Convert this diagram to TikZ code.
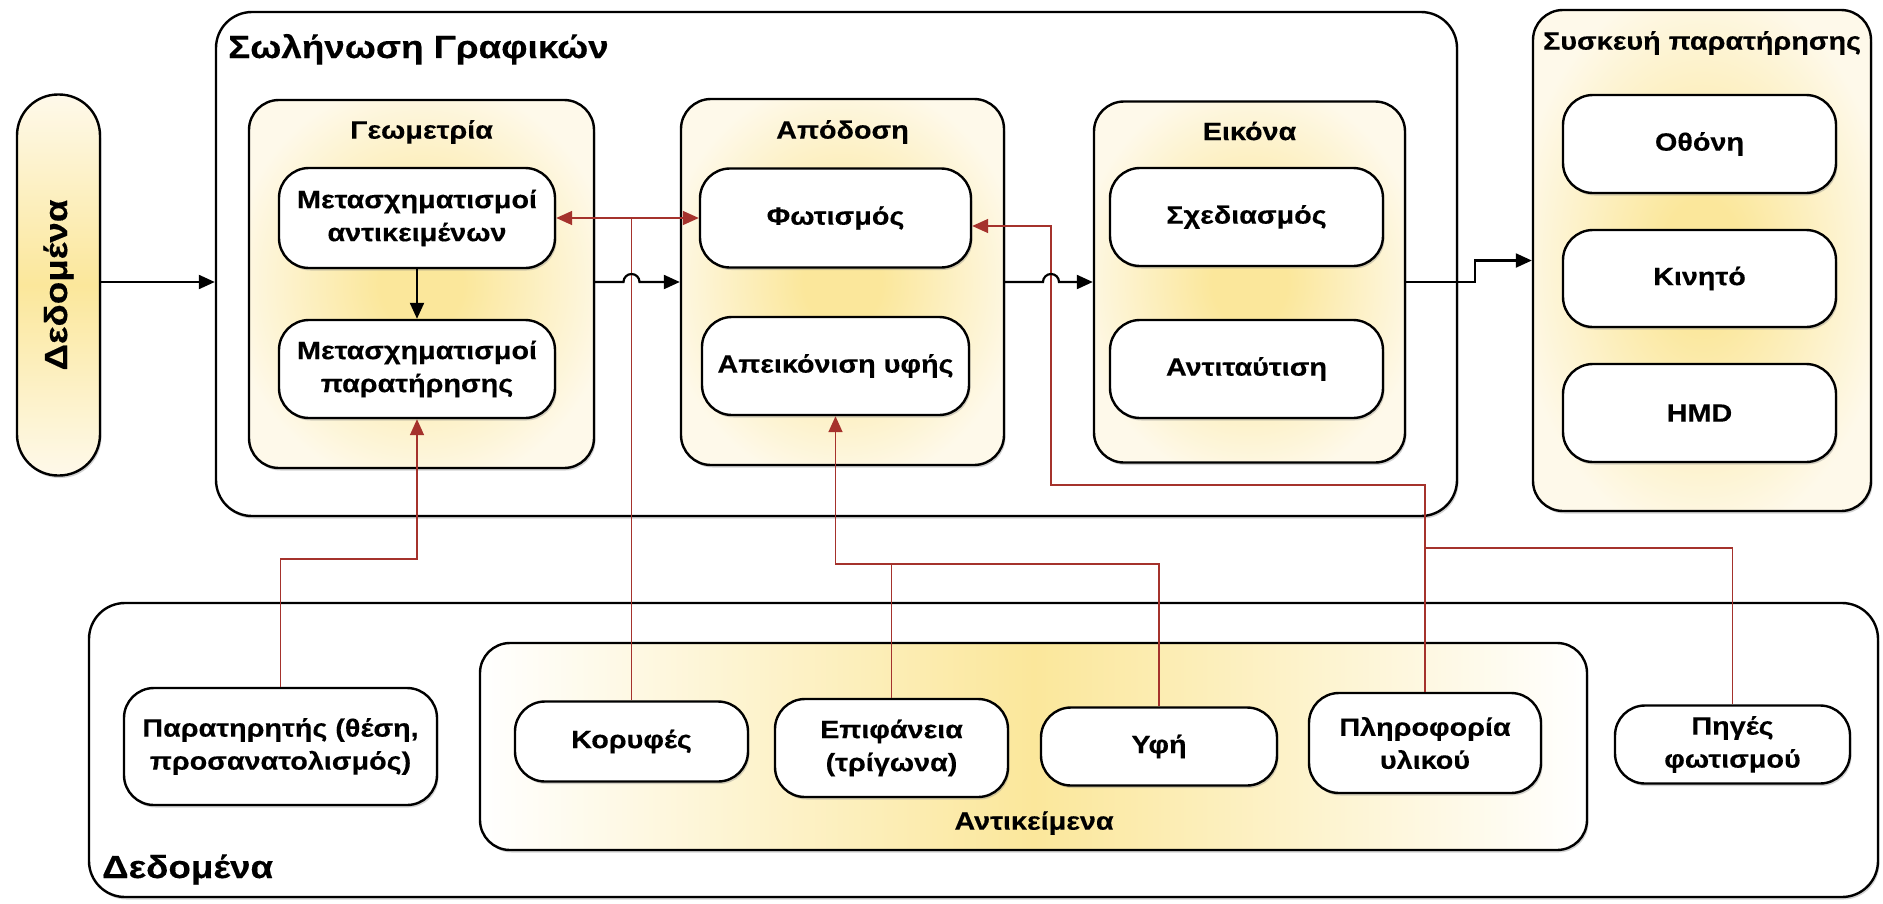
\documentclass[tikz,border=0pt]{standalone}
\usepackage{fontspec}
\setmainfont{Liberation Sans}[FakeStretch=1.15,BoldFeatures={FakeBold=0.3}]
\usetikzlibrary{arrows.meta,shadows,calc}
\definecolor{fyA}{RGB}{251,231,155}
\definecolor{fyB}{RGB}{254,249,234}
\definecolor{redl}{RGB}{165,50,44}
\pgfdeclareradialshading[fyA,fyB]{glow}{\pgfpoint{0bp}{0bp}}{color(0bp)=(fyA); color(6bp)=(fyA); color(28bp)=(fyB); color(50bp)=(fyB)}
\begin{document}
\begin{tikzpicture}[x=1pt,y=-1pt,
  nodefont/.style={font=\bfseries\fontsize{25}{33}\selectfont},
  shad/.style={drop shadow={shadow xshift=1.5pt,shadow yshift=-2.5pt,opacity=0.35}},
  box/.style={draw,line width=2.4pt,fill=white,rounded corners=30pt,align=center,inner sep=0pt,nodefont,shad},
  frame/.style={draw,line width=2.4pt,rounded corners=30pt,shading=glow,inner sep=0pt,shad},
  bigframe/.style={draw,line width=2.4pt,fill=white,rounded corners=36pt,inner sep=0pt,shad},
  ftitle/.style={font=\bfseries\fontsize{25}{30}\selectfont,inner sep=0pt},
  btitle/.style={font=\bfseries\fontsize{32}{38}\selectfont,inner sep=0pt},
  redc/.style={draw=redl,line width=1.6pt},
  reda/.style={redc,-{Triangle[length=16pt,width=14pt]}},
  blka/.style={draw=black,line width=2.2pt,-{Triangle[length=16pt,width=14pt]}},
]
\useasboundingbox (0,0) rectangle (1883,903);
\fill[white] (0,0) rectangle (1883,903);

% ---------- big containers ----------
\node[bigframe,minimum width=1241pt,minimum height=504pt] (pipe) at (836.5,264) {};
\node[btitle,anchor=base west] (pipetitle) at (228,58) {Σωλήνωση Γραφικών};

\node[bigframe,minimum width=1789pt,minimum height=294pt] (data) at (983.5,750) {};
\node[btitle,anchor=base west] (datatitle) at (102,878) {Δεδομένα};

% ---------- left pill ----------
\node[draw,line width=2.4pt,rounded corners=41pt,top color=fyB,bottom color=fyB,middle color=fyA,shad,
      minimum width=83pt,minimum height=381pt,inner sep=0pt] (pill) at (58.5,285) {};
\node[rotate=90,font=\bfseries\fontsize{32}{36}\selectfont,inner sep=0pt] (pilltext) at (pill.center) {Δεδομένα};

% ---------- Geometry ----------
\node[frame,minimum width=345pt,minimum height=368pt] (geo) at (421.5,284) {};
\node[ftitle] (geotitle) at (421.5,132) {Γεωμετρία};
\node[box,minimum width=276pt,minimum height=100pt] (MA) at (417,218) {Μετασχηματισμοί\\αντικειμένων};
\node[box,minimum width=276pt,minimum height=98pt] (MP) at (417,369) {Μετασχηματισμοί\\παρατήρησης};

% ---------- Rendering ----------
\node[frame,minimum width=323pt,minimum height=366pt] (rend) at (842.5,282) {};
\node[ftitle] (rendtitle) at (842.5,132) {Απόδοση};
\node[box,minimum width=271pt,minimum height=99pt] (fot) at (835.5,218) {Φωτισμός};
\node[box,minimum width=267pt,minimum height=98pt] (tex) at (835.5,366) {Απεικόνιση υφής};

% ---------- Image ----------
\node[frame,minimum width=311pt,minimum height=361pt] (img) at (1249.5,282) {};
\node[ftitle] (imgtitle) at (1249.5,131) {Εικόνα};
\node[box,minimum width=273pt,minimum height=98pt] (sxe) at (1246.5,217) {Σχεδιασμός};
\node[box,minimum width=273pt,minimum height=98pt] (antt) at (1246.5,369) {Αντιταύτιση};

% ---------- Display device ----------
\node[frame,minimum width=338pt,minimum height=501pt] (dev) at (1702,260.5) {};
\node[ftitle] (devtitle) at (1702,43) {Συσκευή παρατήρησης};
\node[box,minimum width=273pt,minimum height=98pt] (oth) at (1699.5,144) {Οθόνη};
\node[box,minimum width=273pt,minimum height=97pt] (kin) at (1699.5,278.5) {Κινητό};
\node[box,minimum width=273pt,minimum height=98pt] (hmd) at (1699.5,413) {HMD};

% ---------- Objects ----------
\node[draw,line width=2.4pt,rounded corners=30pt,left color=white,right color=white,middle color=fyA,shad,
      minimum width=1107pt,minimum height=207pt,inner sep=0pt] (objs) at (1033.5,746.5) {};
\node[ftitle] (objstitle) at (1034,823) {Αντικείμενα};

\node[box,minimum width=313pt,minimum height=117pt] (obs) at (280.5,746.5) {Παρατηρητής (θέση,\\προσανατολισμός)};
\node[box,minimum width=233pt,minimum height=80pt] (kor) at (631.5,741.5) {Κορυφές};
\node[box,minimum width=233pt,minimum height=98pt] (epi) at (891.5,748) {Επιφάνεια\\(τρίγωνα)};
\node[box,minimum width=236pt,minimum height=78pt] (yfi) at (1159,746.5) {Υφή};
\node[box,minimum width=232pt,minimum height=100pt] (pli) at (1425,743) {Πληροφορία\\υλικού};
\node[box,minimum width=235pt,minimum height=78pt] (pig) at (1732.5,744.5) {Πηγές\\φωτισμού};

% ---------- red connectors ----------
\draw[reda] (obs.north) |- (MP.south |- 0,559) -- (MP.south);
\draw[reda] (kor.north) |- (MA.east);
\draw[reda] (kor.north) |- (fot.west);
\draw[reda] (epi.north) |- (tex.south |- 0,564) -- (tex.south);
\draw[redc] (yfi.north) |- (epi.north |- 0,564);
\draw[reda] (pli.north) |- (1051,485) |- ($(fot.east)+(0,8)$);
\draw[redc] (pig.north) |- (pli.north |- 0,548);

% ---------- black arrows ----------
\draw[blka] (pill.east |- 0,282) -- (pipe.west |- 0,282);
\draw[blka] (MA.south) -- (MP.north);
\draw[blka] (rend.west -| geo.east) -- ($(kor.north |- rend.west)+(-8,0)$)
   arc[start angle=180,end angle=0,radius=8pt] -- (rend.west);
\draw[blka] (rend.east) -- ($(img.west -| 1051,0)+(-8,0)$)
   arc[start angle=180,end angle=0,radius=8pt] -- (img.west);
\draw[blka] (img.east) -- ++(69,0) |- (dev.west);
\end{tikzpicture}
\end{document}
